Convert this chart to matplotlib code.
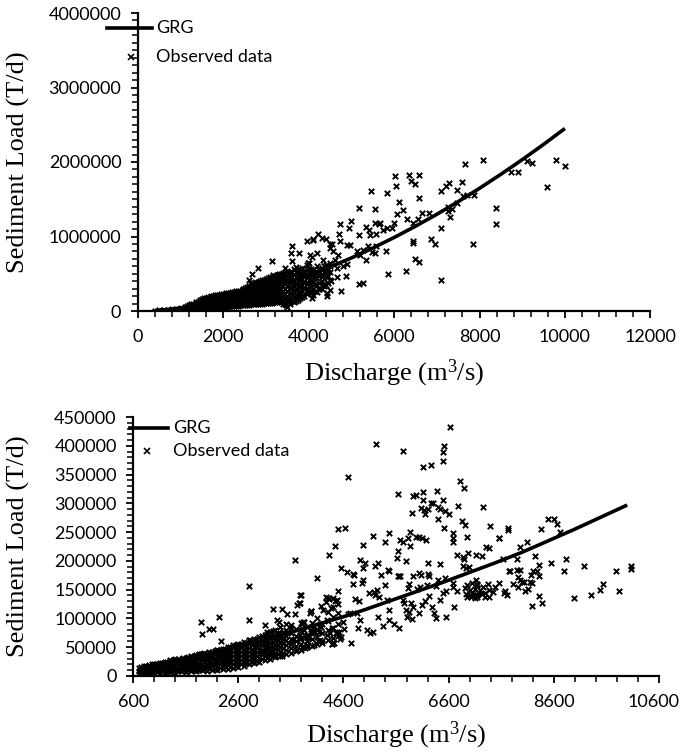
import matplotlib
matplotlib.use("Agg")
import matplotlib.pyplot as plt
import numpy as np
from matplotlib.lines import Line2D
from matplotlib.ticker import FixedLocator, MultipleLocator
from matplotlib.transforms import ScaledTranslation

plt.rcParams['mathtext.fontset'] = 'custom'
plt.rcParams['mathtext.rm'] = 'Liberation Serif'
plt.rcParams['mathtext.it'] = 'Liberation Serif:italic'

# ---------------- Top panel data (Q in m3/s, L in thousand T/d) ----------------
top_curve_q = [400, 600, 800, 1000, 1500, 2000, 2500, 3000, 3500, 4000, 4500, 5000,
               5500, 6000, 6500, 7000, 7500, 8000, 8500, 9000, 9500, 10000]
top_curve_lk = [8, 16, 27, 41, 84, 140, 208, 287, 378, 479, 591, 713,
                845, 987, 1138, 1298, 1468, 1647, 1835, 2031, 2236, 2450]

# dense cluster: discharge column -> loads (thousand T/d)
top_dense = {
    400: [3], 500: [5, 12], 600: [6, 15], 700: [8, 18], 800: [10, 22], 900: [12, 28],
    1000: [15, 35], 1100: [18, 42, 60], 1150: [20, 45, 68], 1200: [20, 50, 75],
    1250: [22, 52, 80, 95], 1300: [25, 55, 85, 100], 1350: [28, 58, 90, 115],
    1400: [30, 60, 95, 125], 1450: [32, 65, 100, 130, 150], 1500: [35, 70, 105, 140, 160],
    1550: [38, 72, 108, 142, 170], 1600: [40, 75, 110, 145, 180],
    1650: [42, 78, 112, 148, 185], 1700: [45, 80, 115, 150, 185, 200],
    1750: [48, 82, 118, 152, 188, 205], 1800: [50, 85, 120, 155, 190, 210],
    1850: [50, 88, 122, 158, 192, 215], 1900: [50, 90, 125, 160, 195, 220],
    1950: [52, 92, 128, 162, 198, 225], 2000: [55, 95, 130, 165, 200, 230],
    2050: [58, 98, 135, 170, 205, 235], 2100: [60, 100, 140, 175, 210, 240],
    2150: [62, 102, 142, 180, 215, 245], 2200: [65, 105, 145, 185, 220, 250],
    2250: [68, 108, 148, 188, 225, 258], 2300: [70, 110, 150, 190, 230, 265],
    2350: [72, 112, 152, 192, 232, 270], 2400: [75, 115, 155, 195, 235, 275],
    2450: [78, 118, 158, 198, 238, 278, 295], 2500: [80, 120, 160, 200, 240, 280, 310],
    2550: [82, 122, 162, 202, 242, 282, 320], 2600: [85, 125, 165, 205, 245, 285, 330],
    2650: [88, 128, 168, 210, 250, 292, 338, 360], 2700: [90, 130, 170, 215, 255, 300, 345, 380],
    2750: [92, 135, 175, 220, 262, 308, 352, 385], 2800: [95, 140, 180, 225, 270, 315, 360, 390],
    2850: [98, 142, 185, 230, 275, 320, 365, 400], 2900: [100, 145, 190, 235, 280, 325, 370, 410],
    2950: [102, 148, 195, 242, 288, 332, 378, 420], 3000: [105, 150, 200, 250, 295, 340, 385, 430],
    3050: [108, 155, 205, 255, 302, 350, 398, 440], 3100: [110, 160, 210, 260, 310, 360, 410, 450],
    3150: [112, 162, 215, 265, 315, 365, 415, 460], 3200: [115, 165, 220, 270, 320, 370, 420, 470],
    3250: [118, 170, 225, 278, 330, 380, 430, 480], 3300: [120, 175, 230, 285, 340, 390, 440, 490],
    3350: [125, 180, 235, 290, 345, 400, 455, 500], 3400: [90, 150, 210, 270, 330, 390, 450, 510],
    3450: [100, 165, 230, 295, 360, 425, 490], 3500: [60, 130, 200, 270, 340, 410, 480, 540],
    3550: [100, 170, 240, 310, 380, 450, 520], 3600: [150, 230, 310, 390, 460, 530],
    3650: [120, 190, 260, 330, 400, 480, 560], 3700: [140, 220, 300, 380, 450, 520, 590],
    3750: [160, 240, 320, 400, 470, 540], 3800: [180, 260, 340, 420, 490, 560],
    3850: [190, 270, 350, 430, 510, 580], 3900: [200, 290, 370, 450, 530],
    3950: [230, 310, 390, 470, 550, 620], 4000: [250, 330, 410, 480, 560, 640],
    4050: [240, 320, 400, 490, 570], 4100: [220, 300, 390, 470, 550],
    4150: [270, 360, 450, 530], 4200: [260, 350, 440, 520, 600],
    4250: [290, 380, 470, 560], 4300: [300, 400, 500, 580],
    4350: [330, 430, 520, 600], 4400: [350, 450, 540, 620],
    4450: [380, 470, 560], 4500: [280, 420, 520, 600],
}

top_sparse_q = [6031, 6054, 5828, 6125, 6077, 6202, 6312, 6000, 5944, 5844, 5750, 5671,
                6343, 6398, 6484, 6593, 6593, 6648, 6562, 6452, 6820, 6452, 6452, 5804,
                5859, 6281, 6484, 6593, 6858, 6960, 7108, 7108, 7108, 7210, 7296, 7468,
                7585, 7671, 8070, 7273, 7273, 7358, 7304, 7468, 7624, 7718, 7874, 7843,
                8382, 8382, 8742, 8890, 9109, 9226, 9577, 9796, 10006,
                4735, 4985, 4954, 5181, 5454, 5548, 5344, 5407, 5540, 5634, 5438, 5579,
                5556, 5173, 4892, 4969, 4719, 4735, 4486, 4501, 4579, 4680, 4094, 4211,
                4321, 4399, 3954, 3618, 3578, 3611, 3782, 3149, 2821, 2680, 2610, 3172,
                3290, 3446, 4032, 4071, 3993, 4188, 4344, 4501, 4618, 4813, 4892, 5126,
                5204, 5282, 5329, 5485, 5579, 5376, 5165, 5259, 4751, 4423, 4438, 4071,
                3759, 3548, 3470, 4868, 4657, 4524, 4430, 4657, 4344, 4110, 3876, 3798,
                4032, 4109, 4547, 4328, 3953, 3797]
top_sparse_lk = [1815, 1680, 1590, 1468, 1306, 1351, 1239, 1184, 1108, 1108, 1081, 1175,
                 1829, 1748, 1698, 1820, 1518, 1320, 1239, 1175, 1311, 941, 914, 811,
                 500, 536, 698, 657, 973, 901, 1108, 414, 1612, 1680, 1721, 1630,
                 1734, 1973, 2022, 1401, 1342, 1365, 1261, 1455, 1545, 1558, 1558, 901,
                 1387, 1166, 1869, 1869, 2013, 1982, 1662, 2022, 1950,
                 1166, 1211, 1117, 1387, 1617, 1365, 1130, 1081, 1184, 1166, 1022, 1036,
                 779, 1018, 883, 883, 1027, 937, 905, 847, 811, 747, 968, 1036,
                 982, 968, 941, 869, 779, 666, 779, 666, 576, 495, 410, 486,
                 486, 576, 756, 725, 644, 779, 689, 644, 689, 599, 635, 802,
                 757, 824, 680, 788, 869, 869, 365, 374, 275, 238, 207, 171,
                 148, 135, 76, 473, 455, 396, 531, 576, 486, 509, 464, 329,
                 374, 953, 899, 349, 259, 192]

# ---------------- Bottom panel data ----------------
bot_curve_q = [800, 1000, 1500, 2000, 2500, 3000, 3500, 4000, 4600, 5000, 5500, 6000,
               6500, 7000, 7500, 8000, 8500, 9000, 9500, 10000]
bot_curve_lk = [15, 19, 28, 37, 48, 60, 73, 87, 103, 115, 131, 147,
                163, 180, 197, 215, 235, 255, 276, 297]

bot_dense = {
    700: [4, 9, 14], 750: [6, 11, 16], 800: [3, 8, 13, 17], 850: [5, 10, 15, 18],
    900: [5, 10, 15, 19], 950: [6, 11, 16, 20], 1000: [4, 9, 14, 20], 1050: [7, 12, 18, 21],
    1100: [6, 11, 16, 22], 1150: [8, 13, 19, 23], 1200: [5, 10, 15, 20, 25],
    1250: [7, 12, 18, 24], 1300: [7, 12, 17, 22, 27], 1350: [9, 14, 19, 25, 28],
    1400: [6, 11, 16, 21, 26, 30], 1450: [9, 14, 20, 25, 29], 1500: [8, 13, 18, 23, 28],
    1550: [10, 15, 20, 26, 31], 1600: [7, 12, 17, 22, 27, 32], 1650: [10, 15, 21, 27, 33],
    1700: [9, 14, 19, 24, 29, 34], 1750: [11, 16, 22, 28, 35], 1800: [8, 13, 18, 24, 30, 36],
    1850: [11, 17, 23, 29, 35, 37], 1900: [10, 15, 21, 27, 33, 38], 1950: [12, 18, 24, 30, 36, 40],
    2000: [9, 15, 21, 27, 33, 39], 2050: [12, 18, 24, 30, 36, 41], 2100: [11, 17, 23, 29, 35, 41],
    2150: [13, 20, 26, 32, 38, 43], 2200: [10, 16, 22, 28, 34, 40, 45],
    2250: [14, 21, 27, 33, 39, 45], 2300: [12, 18, 24, 30, 36, 42, 47],
    2350: [15, 22, 28, 35, 41, 47], 2400: [13, 19, 25, 31, 37, 43, 50],
    2450: [16, 23, 30, 37, 44, 50], 2500: [14, 20, 27, 34, 41, 48, 53],
    2550: [18, 25, 32, 39, 46, 53], 2600: [16, 22, 29, 36, 43, 50, 56],
    2650: [20, 27, 34, 41, 48, 55], 2700: [18, 25, 32, 39, 46, 53, 59],
    2750: [22, 29, 37, 44, 51, 58], 2800: [20, 27, 34, 41, 48, 55, 62],
    2850: [24, 31, 39, 46, 53, 61], 2900: [22, 29, 36, 43, 50, 57, 65],
    2950: [26, 34, 42, 50, 58, 65], 3000: [25, 32, 39, 46, 53, 60, 68],
    3050: [30, 38, 46, 54, 62, 70], 3100: [28, 35, 42, 49, 56, 63, 72],
    3150: [32, 40, 48, 56, 64, 73], 3200: [30, 37, 44, 51, 58, 66, 76],
    3250: [35, 43, 51, 59, 68, 78], 3300: [33, 40, 47, 54, 62, 70, 80],
    3350: [38, 46, 54, 62, 72], 3400: [35, 42, 50, 58, 66, 75, 85],
    3450: [40, 48, 57, 66, 76], 3500: [38, 46, 54, 62, 70, 80], 3600: [40, 48, 56, 65, 75, 88],
    3700: [44, 52, 60, 70, 82], 3800: [46, 56, 66, 78, 92], 3900: [50, 60, 72, 85],
    4000: [52, 64, 78, 92], 4100: [56, 68, 82, 100], 4200: [60, 74, 90],
    4300: [62, 80, 96, 112], 4400: [66, 84, 102], 4500: [70, 90, 110, 125],
}

bot_sparse_q = [6633, 5225, 5726, 6519, 6487, 6487, 6119, 6265, 4692, 6823, 6886, 5643, 5929, 5979,
                6119, 6119, 6373, 6487, 6265, 6297, 6074, 6125, 6208, 6404, 6436, 6538, 6601, 6772,
                7248, 5903, 6157, 6398, 6519, 6861, 6918, 7394, 4489, 4628, 5161, 5472, 4432, 4971,
                5389, 5669, 5732, 5821, 5872, 5872, 5973, 6043, 6094, 6163, 6690, 6690, 6690, 6944,
                7552, 4317, 5631, 5611, 5783, 6214, 6436, 6753, 6867, 6893, 6969, 7115, 7229, 7311,
                7362, 4920, 5003, 4964, 5250, 5205, 4546, 4660, 4781, 4806, 4774, 4964, 4952, 5320,
                5447, 5472, 5675, 5650, 5929, 6030, 6068, 6201, 6233, 6404, 6531, 6677, 6867, 6924,
                6988, 4089, 4489, 4298, 4267, 4438, 4362, 4178, 3975, 3842, 3772, 3772, 4825, 4888,
                5079, 5174, 5193, 5244, 5396, 5269, 5428, 5631, 5846, 5834, 5992, 6055, 6195, 6354,
                6493, 6557, 6690, 6760, 6905, 6924, 6944, 7127, 7134, 7166, 7229, 7375, 7451, 7489,
                7064, 7032, 7134, 7299, 7368, 7552, 3848, 3981, 3937, 4057, 4140, 4172, 4279, 4343,
                4457, 4597, 4679, 4609, 4559, 4425, 4375, 4514, 4527, 4723, 4850, 4920, 4869, 5041,
                5104, 5155, 5250, 5358, 5459, 5472, 5567, 5650, 5738, 5757, 5783, 5802, 5852, 5878,
                5929, 5897, 6036, 6087, 6144, 6220, 6277, 6328, 6360, 6430, 6544, 6709, 4736, 4121,
                4045, 3772, 3816, 3873, 3861,
                7737, 7737, 8352, 8492, 8606, 8663, 8714, 7565, 8098, 7959, 8238, 7908, 8327, 8276,
                8200, 8168, 7895, 7959, 7756, 7629, 7768, 7921, 7959, 7997, 8041, 8149, 8181, 7819,
                7927, 8054, 8105, 7680, 7654, 7705, 8320, 8320, 8181, 8384, 8549, 8834, 8802, 9170,
                8993, 9310, 9475, 9538, 9792, 9849, 10071, 10071,
                7000, 7050, 7100, 7150, 7200, 7250, 7300, 7050, 7150, 7350, 7100, 7000, 6950,
                2807, 1888, 2237, 1913, 2046, 2110, 2268, 2807, 2199, 1856, 1888, 1380, 1444,
                3264, 3423, 3530, 3676, 3708, 3746, 3784, 3106, 3328, 3378, 3499, 3600, 3803, 3835,
                3962, 3987, 4266, 4317, 4393, 4469, 4203, 4406, 3676, 4374, 4469, 4152, 4184, 4374,
                3898, 3835, 3708, 3423, 3296, 3169, 3023, 2884, 2693, 2566, 2820, 2960, 3137, 3232,
                3359, 3550, 3994, 4025, 4152, 4279, 3454, 3550, 3645, 3772, 3898, 3898]
bot_sparse_lk = [433, 403, 391, 400, 390, 373, 363, 366, 346, 338, 327, 316, 313, 314,
                 320, 306, 321, 306, 300, 300, 292, 288, 290, 293, 290, 287, 282, 295,
                 293, 283, 281, 273, 257, 269, 263, 261, 255, 258, 244, 248, 226, 227,
                 232, 236, 232, 240, 250, 226, 241, 241, 240, 236, 249, 240, 233, 241,
                 240, 210, 217, 205, 200, 197, 195, 211, 207, 203, 214, 211, 208, 225,
                 222, 201, 196, 188, 196, 191, 188, 180, 177, 175, 159, 166, 162, 176,
                 184, 182, 173, 174, 174, 179, 175, 177, 173, 167, 171, 161, 191, 188,
                 189, 170, 147, 136, 129, 131, 119, 122, 113, 94, 141, 126, 134, 131,
                 144, 146, 141, 149, 158, 138, 132, 173, 159, 153, 152, 155, 158, 156,
                 145, 148, 155, 148, 153, 142, 138, 167, 158, 146, 142, 149, 146, 155,
                 140, 138, 138, 138, 138, 162, 80, 74, 67, 76, 76, 86, 98, 74,
                 74, 93, 107, 81, 68, 57, 55, 77, 64, 110, 109, 97, 84, 80,
                 74, 76, 103, 87, 115, 97, 91, 83, 132, 126, 115, 103, 111, 126,
                 120, 99, 109, 123, 130, 139, 120, 109, 100, 132, 103, 120, 58, 61,
                 53, 64, 51, 48, 69,
                 257, 254, 255, 273, 273, 264, 250, 240, 233, 225, 208, 203, 192, 183,
                 182, 175, 184, 184, 182, 204, 182, 172, 167, 164, 164, 164, 162, 159,
                 155, 148, 151, 148, 144, 141, 174, 139, 122, 126, 196, 203, 183, 191,
                 136, 141, 149, 159, 183, 148, 191, 186,
                 150, 145, 152, 160, 150, 155, 145, 162, 140, 160, 135, 140, 158,
                 156, 93, 102, 73, 81, 81, 61, 97, 45, 39, 38, 28, 28,
                 117, 117, 108, 108, 124, 127, 141, 89, 98, 93, 91, 84, 91, 94,
                 109, 113, 137, 133, 136, 132, 115, 120, 201, 83, 77, 62, 57, 55,
                 54, 50, 45, 34, 36, 39, 42, 56, 53, 48, 62, 64, 77, 68,
                 74, 77, 77, 86, 91, 71, 65, 57, 62, 71, 68, 60]

top_xticks = [0, 2000, 4000, 6000, 8000, 10000, 12000]
top_yticks = [0, 1000000, 2000000, 3000000, 4000000]
bot_xticks = [600, 2600, 4600, 6600, 8600, 10600]
bot_yticks = [0, 50000, 100000, 150000, 200000, 250000, 300000, 350000, 400000, 450000]


def expand(dense):
    qs, ls = [], []
    for q, vals in dense.items():
        for v in vals:
            qs.append(q)
            ls.append(v)
    return qs, ls


W, H = 683, 752
fig = plt.figure(figsize=(W / 100, H / 100), dpi=100)

tick_font = dict(family='Lato', size=13)
label_font = dict(family='Liberation Serif', size=19)


def style(ax, xticks, yticks, xminor, yminor):
    for s in ['top', 'right']:
        ax.spines[s].set_visible(False)
    for s in ['left', 'bottom']:
        ax.spines[s].set_linewidth(1.6)
    ax.set_xticks(xticks)
    ax.set_xticklabels([str(t) for t in xticks], **tick_font)
    ax.set_yticks(yticks)
    ax.set_yticklabels([str(t) for t in yticks], **tick_font)
    ax.xaxis.set_minor_locator(xminor)
    ax.yaxis.set_minor_locator(yminor)
    ax.tick_params(which='major', direction='out', length=5, width=1.3)
    ax.tick_params(which='minor', direction='out', length=4, width=1.1)
    ax.tick_params(axis='x', which='major', pad=8)
    ax.tick_params(axis='y', which='major', pad=7)


def px(x, y):
    return (x / W, 1 - y / H)


scatter_kw = dict(marker='x', s=15, c='black', linewidths=1.4, zorder=2)

# ---------- top ----------
ax1 = fig.add_axes([138 / W, 1 - 311 / H, 512.3 / W, 298 / H])
dq, dl = expand(top_dense)
ax1.scatter(np.array(dq), np.array(dl) * 1000, **scatter_kw)
ax1.scatter(np.array(top_sparse_q), np.array(top_sparse_lk) * 1000, **scatter_kw)
ax1.plot(top_curve_q, np.array(top_curve_lk) * 1000, color='black', lw=2.6, zorder=3,
         solid_capstyle='butt')
ax1.set_xlim(0, 12000)
ax1.set_ylim(0, 4000000)
style(ax1, top_xticks, top_yticks, MultipleLocator(400), MultipleLocator(100000))
ax1.set_xlabel('Discharge (m$^3$/s)', **label_font)
ax1.set_ylabel('Sediment Load (T/d)', **label_font)
ax1.xaxis.set_label_coords(0.5, -0.155)
ax1.yaxis.set_label_coords(-0.211, 0.5)

# legend top
fig.add_artist(Line2D([107 / W, 152 / W], [1 - 28 / H] * 2, color='black', lw=2.6))
fig.add_artist(Line2D([131 / W], [1 - 57 / H], marker='x', ms=3.7, mew=1.2, color='black', lw=0))
fig.text(*px(156, 28), 'GRG', family='Lato', size=13, va='center', ha='left')
fig.text(*px(156, 57), 'Observed data', family='Lato', size=13, va='center', ha='left')

# ---------- bottom ----------
ax2 = fig.add_axes([133.3 / W, 1 - 676 / H, 525.4 / W, 259 / H])
dq, dl = expand(bot_dense)
ax2.scatter(np.array(dq), np.array(dl) * 1000, **scatter_kw)
ax2.scatter(np.array(bot_sparse_q), np.array(bot_sparse_lk) * 1000, **scatter_kw)
ax2.plot(bot_curve_q, np.array(bot_curve_lk) * 1000, color='black', lw=2.6, zorder=3,
         solid_capstyle='butt')
ax2.set_xlim(600, 10600)
ax2.set_ylim(0, 450000)
style(ax2, bot_xticks, bot_yticks, FixedLocator(np.arange(600, 10601, 400)), MultipleLocator(10000))
ax2.set_xlabel('Discharge (m$^3$/s)', **label_font)
ax2.set_ylabel('Sediment Load (T/d)', **label_font)
ax2.xaxis.set_label_coords(0.5, -0.17)
ax2.yaxis.set_label_coords(-0.197, 0.5)

# keep the last x tick label inside the canvas
last = ax2.get_xticklabels()[-1]
last.set_transform(last.get_transform() + ScaledTranslation(-0.05, 0, fig.dpi_scale_trans))

fig.add_artist(Line2D([130 / W, 168 / W], [1 - 428 / H] * 2, color='black', lw=2.6))
fig.add_artist(Line2D([147 / W], [1 - 451 / H], marker='x', ms=3.7, mew=1.2, color='black', lw=0))
fig.text(*px(173, 428), 'GRG', family='Lato', size=13, va='center', ha='left')
fig.text(*px(173, 451), 'Observed data', family='Lato', size=13, va='center', ha='left')

fig.savefig('out.png', dpi=100)
